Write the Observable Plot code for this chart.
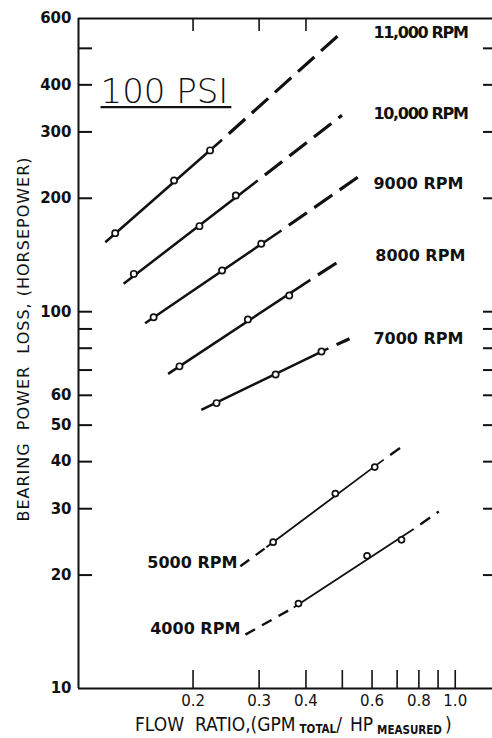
<!DOCTYPE html>
<html>
<head>
<meta charset="utf-8">
<script src="https://cdn.jsdelivr.net/npm/d3@7"></script>
<script src="https://cdn.jsdelivr.net/npm/@observablehq/plot@0.6"></script>
<style>
  html, body { margin: 0; padding: 0; background: #fff; }
  #chart svg { display: block; }
  .tenk text { letter-spacing: -1.3px; }
</style>
</head>
<body>
<div id="chart"></div>
<script>
// ---------- data ----------
const rpmNames = ["11,000 RPM", "10,000 RPM", "9000 RPM", "8000 RPM", "7000 RPM", "5000 RPM", "4000 RPM"];

// measured points (flow ratio, horsepower loss)
const pointRpm  = ["11,000 RPM","11,000 RPM","11,000 RPM",
                   "10,000 RPM","10,000 RPM","10,000 RPM",
                   "9000 RPM","9000 RPM","9000 RPM",
                   "8000 RPM","8000 RPM","8000 RPM",
                   "7000 RPM","7000 RPM","7000 RPM",
                   "5000 RPM","5000 RPM","5000 RPM",
                   "4000 RPM","4000 RPM","4000 RPM"];
const pointFlow = [0.124, 0.178, 0.222,
                   0.139, 0.208, 0.260,
                   0.157, 0.239, 0.304,
                   0.184, 0.280, 0.361,
                   0.231, 0.332, 0.440,
                   0.327, 0.479, 0.610,
                   0.382, 0.582, 0.719];
const pointLoss = [161.6, 223, 268,
                   126, 168.7, 203.4,
                   96.7, 128.6, 151.4,
                   71.6, 95.4, 110.4,
                   57.2, 68.1, 78.4,
                   24.45, 32.9, 38.7,
                   16.8, 22.5, 24.8];

// solid fitted lines (start -> end)
const solidRpm   = ["11,000 RPM","10,000 RPM","9000 RPM","8000 RPM","7000 RPM","5000 RPM","4000 RPM"];
const solidFlow1 = [0.1167, 0.1306, 0.149, 0.1716, 0.2104, 0.3137, 0.371];
const solidLoss1 = [152.9, 118.6, 93.2, 68.4, 54.9, 23.7, 16.4];
const solidFlow2 = [0.239, 0.2975, 0.344, 0.411, 0.459, 0.6446, 0.775];
const solidLoss2 = [286, 223, 164.3, 121.5, 79.9, 40.5, 26.5];

// dashed extrapolations (start -> end)
const dashRpm   = ["11,000 RPM","10,000 RPM","9000 RPM","8000 RPM","7000 RPM","5000 RPM","4000 RPM","5000 RPM","4000 RPM"];
const dashFlow1 = [0.239, 0.2975, 0.344, 0.411, 0.459, 0.6446, 0.775, 0.2674, 0.2758];
const dashLoss1 = [286, 223, 164.3, 121.5, 79.9, 40.5, 26.5, 21.1, 13.9];
const dashFlow2 = [0.499, 0.499, 0.555, 0.489, 0.5225, 0.729, 0.904, 0.3137, 0.371];
const dashLoss2 = [552, 332, 228.9, 135.9, 84.8, 44.2, 29.5, 23.7, 16.4];

// axis ticks
const yTickLabels = [10, 20, 30, 40, 50, 60, 80, 100, 200, 300, 400, 600];
const yTickMarks  = [20, 30, 40, 50, 60, 70, 80, 90, 100, 200, 300, 400, 500];
const xTickLabels = [0.2, 0.3, 0.4, 0.6, 0.8, 1.0];
const xTickMarks  = [0.2, 0.3, 0.4, 0.5, 0.6, 0.7, 0.8, 0.9, 1.0];
const xTopTicks   = [0.2, 0.3, 0.4];

// ---------- tables ----------
const points = pointFlow.map((f, i) => ({rpm: pointRpm[i], flow: f, loss: pointLoss[i]}));
const solids = solidRpm.map((r, i) => ({rpm: r, x1: solidFlow1[i], y1: solidLoss1[i], x2: solidFlow2[i], y2: solidLoss2[i]}));
const dashes = dashRpm.map((r, i) => ({rpm: r, x1: dashFlow1[i], y1: dashLoss1[i], x2: dashFlow2[i], y2: dashLoss2[i], lead: i >= 7}));
const upper = new Set(rpmNames.slice(0, 5));

const xDomain = [0.099, 1.257];
const yDomain = [10, 600];

const font = "'DejaVu Sans', sans-serif";
const titleSize = 34;

const chart = Plot.plot({
  width: 492,
  height: 738,
  marginLeft: 78,
  marginRight: 0,
  marginTop: 18,
  marginBottom: 50,
  x: {type: "log", domain: xDomain},
  y: {type: "log", domain: yDomain},
  style: {background: "#fff", fontFamily: font, color: "#111"},
  marks: [
    // frame lines
    Plot.ruleX([xDomain[0]], {stroke: "#111", strokeWidth: 2}),
    Plot.ruleY([yDomain[0]], {stroke: "#111", strokeWidth: 2}),
    Plot.ruleY([yDomain[1]], {stroke: "#111", strokeWidth: 2}),
    // inward tick marks
    Plot.tickY(yTickMarks, {y: d => d, insetRight: 400, stroke: "#111", strokeWidth: 2}),
    Plot.tickY(yTickMarks, {y: d => d, insetLeft: 405, stroke: "#111", strokeWidth: 2}),
    Plot.tickX(xTickMarks, {x: d => d, insetTop: 652, stroke: "#111", strokeWidth: 1.6}),
    Plot.tickX(xTopTicks, {x: d => d, insetBottom: 657, stroke: "#111", strokeWidth: 1.6}),
    // tick labels
    Plot.axisY({ticks: yTickLabels, anchor: "left", tickSize: 0, tickPadding: 7, label: null,
                tickFormat: d => String(d), fontSize: 15, fontWeight: "bold", fill: "#111"}),
    Plot.axisX({ticks: xTickLabels, anchor: "bottom", tickSize: 0, tickPadding: 7, label: null,
                tickFormat: d => d.toFixed(1), fontSize: 15, fill: "#111"}),
    // solid lines
    Plot.link(solids, {x1: "x1", y1: "y1", x2: "x2", y2: "y2", stroke: "#111",
                       strokeWidth: d => upper.has(d.rpm) ? 2.5 : 1.8}),
    // dashed extrapolations
    Plot.link(dashes.filter(d => upper.has(d.rpm)), {x1: "x1", y1: "y1", x2: "x2", y2: "y2", stroke: "#111",
                       strokeWidth: 3.2, strokeDasharray: "22,9", strokeDashoffset: 22}),
    Plot.link(dashes.filter(d => !upper.has(d.rpm) && !d.lead), {x1: "x1", y1: "y1", x2: "x2", y2: "y2", stroke: "#111",
                       strokeWidth: 2.4, strokeDasharray: "12,8", strokeDashoffset: 12}),
    Plot.link(dashes.filter(d => d.lead), {x1: "x1", y1: "y1", x2: "x2", y2: "y2", stroke: "#111",
                       strokeWidth: 2.4, strokeDasharray: "11,8"}),
    // measured points
    Plot.dot(points, {x: "flow", y: "loss", r: d => upper.has(d.rpm) ? 4.3 : 4,
                      fill: "#fff", stroke: "#111", strokeWidth: 1.7}),
    // series labels
    Plot.text(rpmNames.slice(0, 2), {
      x: [0.605, 0.605],
      y: [551, 336],
      text: d => d, textAnchor: "start", fontSize: 16, fontWeight: "bold", fill: "#111", className: "tenk"}),
    Plot.text(rpmNames.slice(2, 5), {
      x: [0.605, 0.612, 0.605],
      y: [219, 141, 84.9],
      text: d => d, textAnchor: "start", fontSize: 16, fontWeight: "bold", fill: "#111"}),
    Plot.text(rpmNames.slice(5), {
      x: [0.2626, 0.2673],
      y: [21.5, 14.4],
      text: d => d, textAnchor: "end", fontSize: 16, fontWeight: "bold", fill: "#111"}),
    // title inside plot
    Plot.text(["100 PSI"], {frameAnchor: "top-left", dx: 22, dy: 60, text: d => d, textAnchor: "start",
                            lineAnchor: "top", fontSize: titleSize, fontWeight: 200, fill: "#111", className: "psi"})
  ]
});

document.getElementById("chart").appendChild(chart);

const svg = d3.select(chart);
// underline for "100 PSI" (drawn in the same coordinate system as the text)
const psi = chart.querySelector(".psi text");
if (psi) {
  const bb = psi.getBBox();
  const baseline = bb.y + 0.928 * titleSize;
  const line = document.createElementNS("http://www.w3.org/2000/svg", "line");
  line.setAttribute("x1", bb.x);
  line.setAttribute("x2", bb.x + bb.width + 3);
  line.setAttribute("y1", baseline + 5);
  line.setAttribute("y2", baseline + 5);
  line.setAttribute("stroke", "#111");
  line.setAttribute("stroke-width", 2.2);
  const t = psi.getAttribute("transform");
  if (t) line.setAttribute("transform", t);
  psi.parentNode.appendChild(line);
}

// y axis title
svg.append("text")
  .attr("transform", "translate(29,339) rotate(-90)")
  .attr("text-anchor", "middle")
  .attr("font-family", font)
  .attr("font-size", 16)
  .attr("letter-spacing", 1)
  .attr("fill", "#111")
  .text("BEARING  POWER  LOSS, (HORSEPOWER)");

// x axis title with subscripts
const xt = svg.append("text")
  .attr("x", 135).attr("y", 731)
  .attr("text-anchor", "start")
  .attr("font-family", "'DejaVu Sans Condensed', 'DejaVu Sans', sans-serif")
  .attr("font-size", 19)
  .attr("fill", "#111");
xt.append("tspan").text("FLOW  RATIO,(GPM");
xt.append("tspan").attr("font-size", 11.5).attr("font-weight", "bold").attr("dy", 2).attr("dx", 4).text("TOTAL");
xt.append("tspan").attr("dy", -2).text("/");
xt.append("tspan").attr("dx", 8).text("HP");
xt.append("tspan").attr("font-size", 11.5).attr("font-weight", "bold").attr("dy", 3).attr("dx", 4).text("MEASURED");
xt.append("tspan").attr("dy", -3).attr("dx", 3).text(")");
</script>
</body>
</html>
